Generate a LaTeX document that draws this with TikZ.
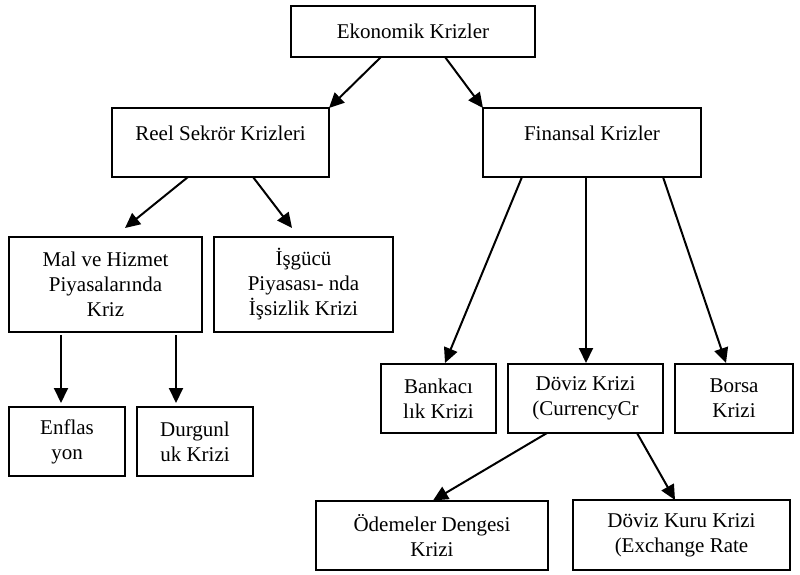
\documentclass[tikz,border=0pt]{standalone}
\usepackage{fontspec}
\setmainfont{Liberation Serif}
\usetikzlibrary{arrows.meta}

\begin{document}
\begin{tikzpicture}[x=1pt, y=-1pt,
  box/.style={draw, line width=2pt, rectangle, align=center, inner sep=0pt, outer sep=0pt, font=\fontsize{21}{25}\selectfont},
  arr/.style={line width=2pt, -{Triangle[length=15pt, width=14pt]}}]

\useasboundingbox (0,0) rectangle (800,575);

% draw boxes
\node (eko) [box, minimum width=244pt, minimum height=51pt] at (413,31.5) {Ekonomik Krizler};
\node (reel) [box, minimum width=217pt, minimum height=69pt, text depth=18pt] at (220.5,142.5) {Reel Sekrör Krizleri};
\node (fin) [box, minimum width=218pt, minimum height=69pt, text depth=18pt] at (592,142.5) {Finansal Krizler};

\node (mal) [box, minimum width=193pt, minimum height=95pt] at (105.5,284.5) {Mal ve Hizmet\\Piyasalarında\\Kriz};
\node (isg) [box, minimum width=179pt, minimum height=95pt] at (303.5,284.5) {İşgücü\\Piyasası- nda\\İşsizlik Krizi};
\node (enf) [box, minimum width=116pt, minimum height=69pt] at (67,441.5) {Enflas\\yon};
\node (dur) [box, minimum width=116pt, minimum height=69pt] at (195,441.5) {Durgunl\\uk Krizi};

\node (ban) [box, minimum width=115pt, minimum height=69pt] at (438.5,398.5) {Bankacı\\lık Krizi};
\node (dov) [box, minimum width=155pt, minimum height=69pt] at (585.5,398.5) {Döviz Krizi\\(CurrencyCr};
\node (bor) [box, minimum width=118pt, minimum height=69pt] at (734,398.5) {Borsa\\Krizi};
\node (ode) [box, minimum width=232pt, minimum height=69pt] at (432,535) {Ödemeler Dengesi\\Krizi};
\node (kur) [box, minimum width=217pt, minimum height=70pt] at (681.5,535) {Döviz Kuru Krizi\\(Exchange Rate};

% draw arrows
\draw [arr] ([xshift=90pt]eko.south west) -- (reel.north east);
\draw [arr] ([xshift=154pt]eko.south west) -- (fin.north west);
\draw [arr] ([xshift=76pt]reel.south west) -- ([xshift=116pt,yshift=9pt]mal.north west);
\draw [arr] ([xshift=141pt]reel.south west) -- ([xshift=78pt,yshift=9pt]isg.north west);
\draw [arr] ([xshift=52pt,yshift=-3pt]mal.south west) -- ([xshift=52pt,yshift=4pt]enf.north west);
\draw [arr] ([xshift=167pt,yshift=-3pt]mal.south west) -- ([xshift=39pt,yshift=4pt]dur.north west);
\draw [arr] ([xshift=39pt]fin.south west) -- ([xshift=64pt,yshift=1pt]ban.north west);
\draw [arr] ([xshift=103pt]fin.south west) -- ([xshift=78pt,yshift=1pt]dov.north west);
\draw [arr] ([xshift=180pt]fin.south west) -- ([xshift=51pt,yshift=1pt]bor.north west);
\draw [arr] ([xshift=39pt]dov.south west) -- ([xshift=117pt]ode.north west);
\draw [arr] ([xshift=129pt]dov.south west) -- ([xshift=102pt]kur.north west);

\end{tikzpicture}
\end{document}
